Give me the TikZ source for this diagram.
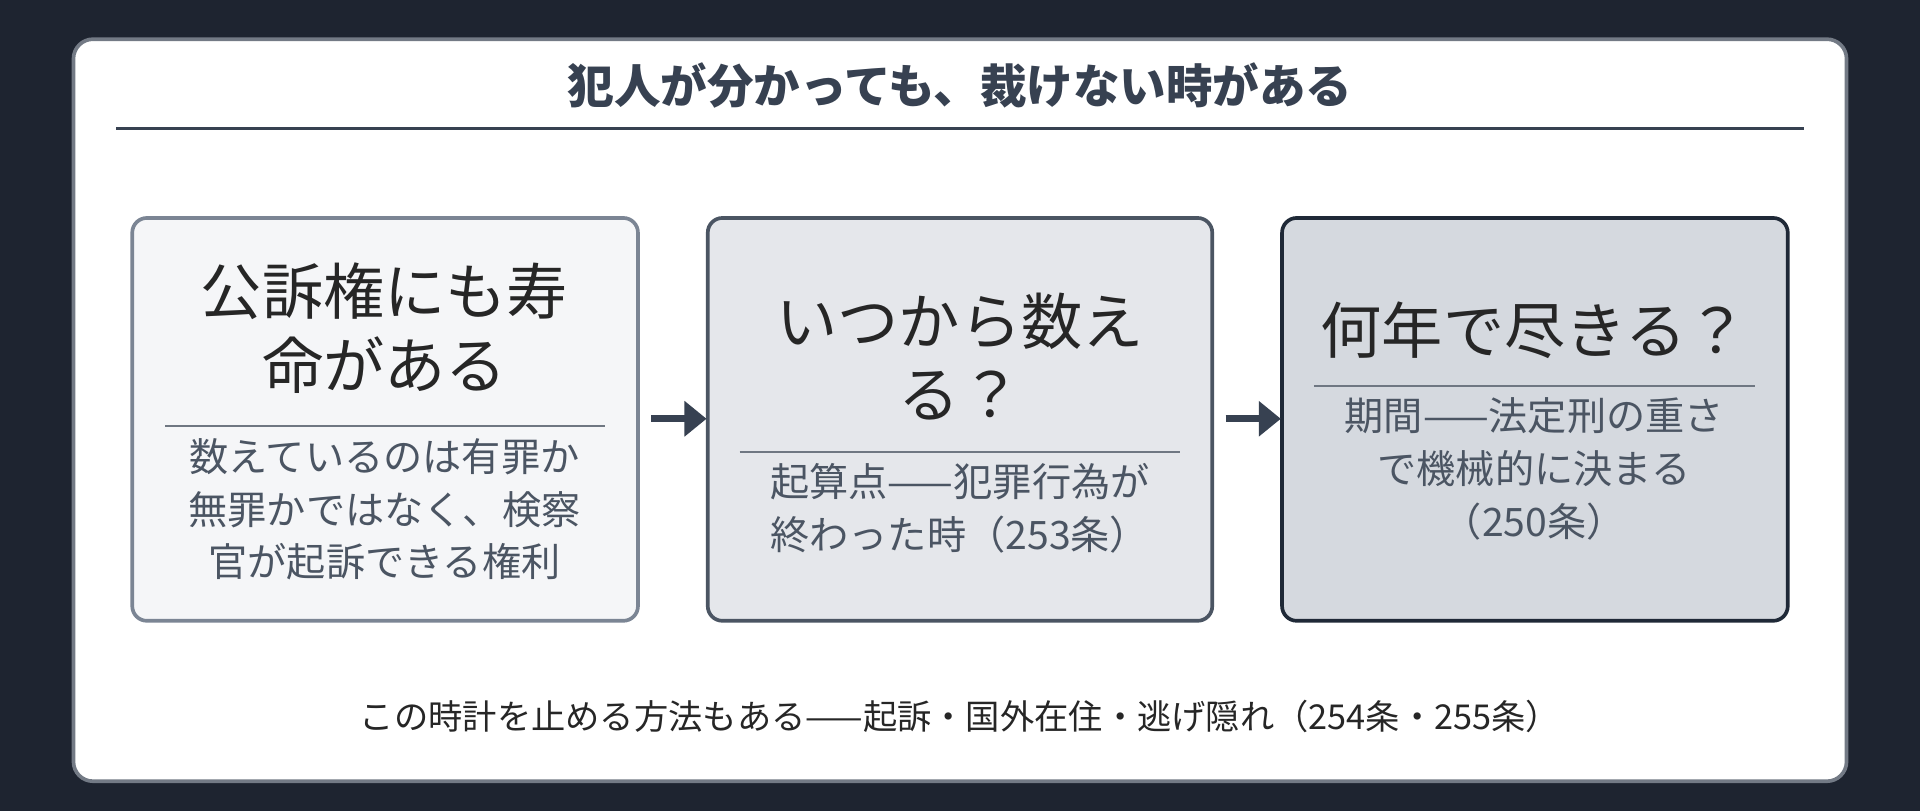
\documentclass[tikz,border=0pt]{standalone}
\usepackage{fontspec}
\setmainfont{Noto Sans CJK JP}
\usetikzlibrary{arrows.meta}
\definecolor{bg}{HTML}{1E2430}
\definecolor{ink}{HTML}{374151}
\definecolor{sub}{HTML}{4B5563}
\definecolor{fa}{HTML}{F5F6F8}
\definecolor{fb}{HTML}{E5E7EB}
\definecolor{fc}{HTML}{D5D9DF}
\definecolor{ba}{HTML}{7B8594}
\definecolor{bb}{HTML}{4B5563}
\definecolor{bc}{HTML}{1F2937}
\begin{document}
\begin{tikzpicture}[x=0.5pt,y=-0.5pt,
 box/.style={rounded corners=6pt,line width=1.5pt},
 head/.style={font=\fontsize{25}{30}\selectfont,text=black!85,align=center,inner sep=0},
 body/.style={font=\fontsize{16}{21.5}\selectfont,text=sub,inner sep=0},
 rule/.style={draw=sub!80,line width=0.7pt},
 arr/.style={draw=ink,line width=3pt,-{Triangle[length=9pt,width=14pt]}}]
\fill[bg] (0,0) rectangle (1568,662);
\useasboundingbox (0,0) rectangle (1568,662);
\draw[fill=white,draw=ink!70,line width=1.5pt,rounded corners=8pt] (60,32) rectangle (1508,638);
\node[font=\bfseries\fontsize{19}{22}\selectfont,text=ink] (title) at (784,70) {犯人が分かっても、裁けない時がある};
\draw[draw=ink,line width=0.9pt] (95,105) -- (1473,105);
\draw[box,fill=fa,draw=ba] (108,178) rectangle (521,507);
\draw[box,fill=fb,draw=bb] (578,178) rectangle (990,507);
\draw[box,fill=fc,draw=bc] (1047,178) rectangle (1460,507);
\node[head] (h1) at (314,268) {公訴権にも寿\\命がある};
\draw[rule] (135,348) -- (494,348);
\node[body,align=center] (s1) at (314,416) {数えているのは有罪か\\無罪かではなく、検察\\官が起訴できる権利};
\node[head] (h2) at (784,291) {いつから数え\\る？};
\draw[rule] (604,369) -- (964,369);
\node[body,align=left] (s2) at (784,415) {起算点——犯罪行為が\\終わった時（253条）};
\node[head] (h3) at (1253,270) {何年で尽きる？};
\draw[rule] (1073,315) -- (1433,315);
\node[body,align=center] (s3) at (1253,383) {期間——法定刑の重さ\\で機械的に決まる\\（250条）};
\coordinate (a1) at (532,342); \coordinate (a2) at (577,342);
\coordinate (b1) at (1001,342); \coordinate (b2) at (1046,342);
\draw[arr] (a1) -- (a2);
\draw[arr] (b1) -- (b2);
\node[font=\fontsize{14}{17}\selectfont,text=black!85] (foot) at (784,585) {この時計を止める方法もある——起訴・国外在住・逃げ隠れ（254条・255条）};
\end{tikzpicture}
\end{document}
